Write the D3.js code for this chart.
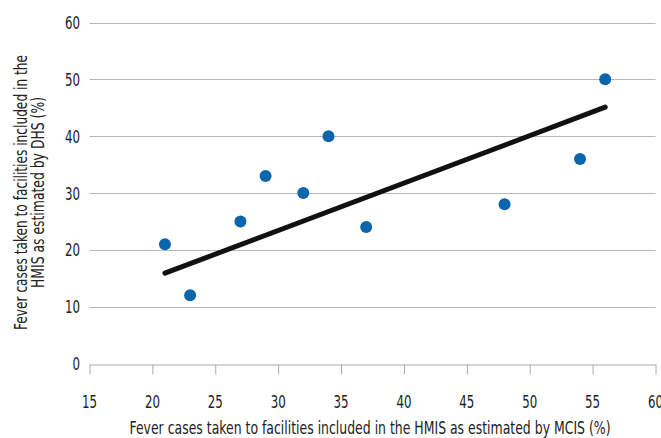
<!DOCTYPE html>
<html><head><meta charset="utf-8">
<script src="https://cdn.jsdelivr.net/npm/d3@7"></script>
<style>
body{margin:0;background:#fff}
text{font-family:"Liberation Sans Narrow","DejaVu Sans Condensed","Arial Narrow",sans-serif;fill:#222}
</style></head><body>
<svg id="c" width="661" height="438"></svg>
<script>
const mcisX = [21, 23, 27, 29, 32, 34, 37, 48, 54, 56];
const dhsY  = [21, 12, 25, 33, 30, 40, 24, 28, 36, 50];
const trendX = [21, 56];
const trendY = [15.9, 45.1];
const xTicks = [15, 20, 25, 30, 35, 40, 45, 50, 55, 60];
const yTicks = [0, 10, 20, 30, 40, 50, 60];
const xTitle = "Fever cases taken to facilities included in the HMIS as estimated by MCIS (%)";
const yTitle = ["Fever cases taken to facilities included in the", "HMIS as estimated by DHS (%)"];

const svg = d3.select("#c");
const x = d3.scaleLinear().domain([15, 60]).range([89.5, 655.5]);
const y = d3.scaleLinear().domain([0, 60]).range([363.5, 22.5]);
const tl = d => String(d).length * 7.5;

// gridlines
svg.append("g").selectAll("line").data(yTicks.filter(d => d > 0)).join("line")
  .attr("x1", x(15)).attr("x2", x(60))
  .attr("y1", d => Math.round(y(d)) + 0.5).attr("y2", d => Math.round(y(d)) + 0.5)
  .attr("stroke", "#b8b8b8").attr("stroke-width", 1);

// y tick labels
svg.append("g").selectAll("text").data(yTicks).join("text")
  .attr("x", 80).attr("y", d => y(d) + 6.5)
  .attr("text-anchor", "end").style("font-size", "18px")
  .attr("textLength", tl).attr("lengthAdjust", "spacingAndGlyphs").text(d => d);

// x axis
const xAxis = d3.axisBottom(x).tickValues(xTicks).tickSize(10).tickPadding(14).tickSizeOuter(0).tickFormat(() => "");
const gx = svg.append("g").attr("transform", `translate(0,${Math.round(y(0)) + 0.5})`).call(xAxis);
gx.select(".domain").attr("stroke", "#aaa");
gx.selectAll(".tick line").attr("stroke", "#aaa");
svg.append("g").selectAll("text").data(xTicks).join("text")
  .attr("x", d => x(d)).attr("y", 408)
  .attr("text-anchor", "middle").style("font-size", "18px")
  .attr("textLength", tl).attr("lengthAdjust", "spacingAndGlyphs").text(d => d);

// trend line
svg.append("path")
  .datum(trendX.map((d, i) => [d, trendY[i]]))
  .attr("d", d3.line().x(d => x(d[0])).y(d => y(d[1])))
  .attr("stroke", "#111").attr("stroke-width", 5).attr("stroke-linecap", "round").attr("fill", "none");

// points
svg.append("g").selectAll("circle").data(mcisX.map((d, i) => [d, dhsY[i]])).join("circle")
  .attr("cx", d => x(d[0])).attr("cy", d => y(d[1])).attr("r", 6)
  .attr("fill", "#0a65ab");

// titles
svg.append("text").attr("x", 370).attr("y", 434).attr("text-anchor", "middle")
  .style("font-size", "17px").attr("textLength", 481).attr("lengthAdjust", "spacingAndGlyphs").text(xTitle);
const yt = svg.append("text").attr("transform", "translate(0,192.5) rotate(-90)")
  .attr("text-anchor", "middle").style("font-size", "17px");
yt.selectAll("tspan").data(yTitle).join("tspan")
  .attr("x", 0).attr("y", (d, i) => 27 + i * 17)
  .attr("textLength", (d, i) => [275, 191][i]).attr("lengthAdjust", "spacingAndGlyphs").text(d => d);
</script></body></html>
